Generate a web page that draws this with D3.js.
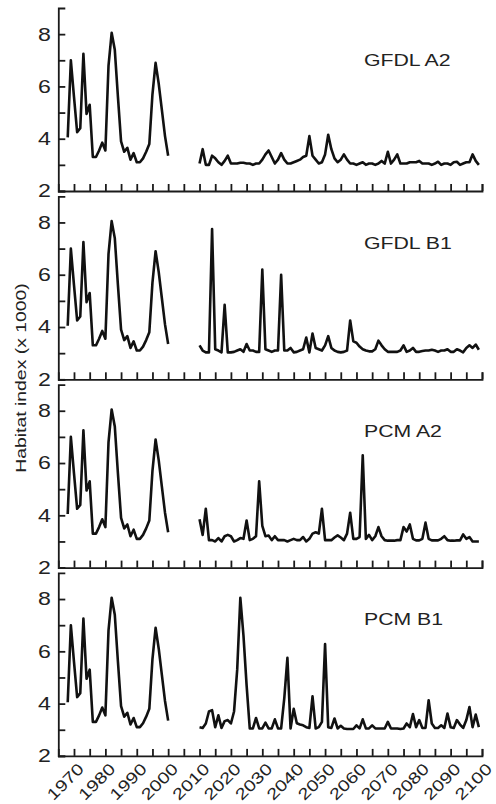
<!DOCTYPE html>
<meta charset="utf-8">
<head>
  <title>Habitat index projections</title>
</head>

<style>
body {
  margin: 0;
  background: #fff;
  font-family: "Liberation Sans", Arial, Helvetica, sans-serif;
}
.axis path, .axis line {
  stroke: #1a1a1a;
  stroke-width: 1.8px;
  fill: none;
}
.axis text {
  fill: #222;
  font-size: 18.5px;
  font-family: "Liberation Sans", Arial, Helvetica, sans-serif;
}
.series {
  fill: none;
  stroke: #111;
  stroke-width: 2.6px;
  stroke-linejoin: round;
}
.xlabel {
  fill: #222;
  font-size: 16px;
}
.panelname {
  fill: #222;
  font-size: 17px;
}
.ytitle {
  fill: #222;
  font-size: 15.5px;
}
</style>

<body>
<div id="chart"></div>

<script src="https://cdnjs.cloudflare.com/ajax/libs/d3/7.8.5/d3.min.js"></script>
<script>
// observed record, one value per year from 1968 (same in every panel)
var histStart = 1968;
var historical = [4.05, 7.0, 5.6, 4.25, 4.4, 7.25, 4.95, 5.3, 3.3, 3.3,
  3.55, 3.85, 3.55, 6.8, 8.05, 7.4, 5.6, 3.9, 3.5, 3.65,
  3.2, 3.45, 3.1, 3.1, 3.25, 3.5, 3.8, 5.7, 6.9, 6.1,
  5.1, 4.1, 3.35];

// projections, one value per year from 2010 to 2099
var projStart = 2010;
var gfdlA2 = [3.05, 3.6, 3.0, 3.0, 3.35, 3.25, 3.1, 3.0, 3.15, 3.35,
  3.05, 3.05, 3.05, 3.08, 3.08, 3.05, 3.05, 3.0, 3.05, 3.05,
  3.2, 3.4, 3.55, 3.3, 3.05, 3.2, 3.45, 3.2, 3.05, 3.05,
  3.1, 3.15, 3.2, 3.3, 3.35, 4.1, 3.35, 3.2, 3.05, 3.1,
  3.4, 4.15, 3.6, 3.25, 3.1, 3.2, 3.4, 3.2, 3.05, 3.05,
  3.0, 3.05, 3.1, 3.0, 3.05, 3.05, 3.0, 3.05, 3.15, 3.05,
  3.5, 3.05, 3.2, 3.4, 3.05, 3.05, 3.05, 3.1, 3.1, 3.1,
  3.15, 3.05, 3.05, 3.05, 3.0, 3.05, 3.12, 3.0, 3.05, 3.05,
  3.0, 3.1, 3.12, 3.0, 3.05, 3.1, 3.1, 3.4, 3.15, 3.0];
var gfdlB1 = [3.3, 3.1, 3.03, 3.03, 7.75, 3.15, 3.1, 3.03, 4.85, 3.03,
  3.03, 3.05, 3.1, 3.15, 3.05, 3.35, 3.1, 3.1, 3.05, 3.05,
  6.2, 3.15, 3.1, 3.05, 3.1, 3.1, 6.0, 3.1, 3.1, 3.2,
  3.03, 3.05, 3.1, 3.15, 3.6, 3.03, 3.75, 3.2, 3.15, 3.1,
  3.3, 3.65, 3.2, 3.1, 3.05, 3.03, 3.05, 3.1, 4.25, 3.45,
  3.4, 3.25, 3.15, 3.1, 3.07, 3.07, 3.15, 3.48, 3.3, 3.15,
  3.05, 3.05, 3.05, 3.05, 3.1, 3.3, 3.05, 3.1, 3.2, 3.05,
  3.05, 3.08, 3.1, 3.1, 3.13, 3.1, 3.05, 3.1, 3.1, 3.15,
  3.05, 3.05, 3.15, 3.1, 3.03, 3.2, 3.3, 3.2, 3.33, 3.13];
var pcmA2 = [3.85, 3.25, 4.25, 3.05, 3.05, 3.0, 3.13, 3.0, 3.2, 3.25,
  3.2, 3.0, 3.05, 3.13, 3.1, 3.8, 3.05, 3.1, 3.2, 5.3,
  3.6, 3.2, 3.23, 3.05, 3.2, 3.05, 3.05, 3.05, 3.0, 3.05,
  3.1, 3.05, 3.05, 3.17, 3.0, 3.1, 3.3, 3.35, 3.3, 4.25,
  3.05, 3.05, 3.05, 3.15, 3.23, 3.15, 3.05, 3.3, 4.1, 3.1,
  3.1, 3.17, 6.3, 3.1, 3.25, 3.05, 3.2, 3.55, 3.2, 3.05,
  3.03, 3.03, 3.03, 3.05, 3.05, 3.55, 3.38, 3.65, 3.1, 3.04,
  3.04, 3.1, 3.72, 3.1, 3.04, 3.04, 3.04, 3.1, 3.2, 3.05,
  3.03, 3.03, 3.04, 3.04, 3.27, 3.1, 3.17, 3.0, 3.0, 3.0];
var pcmB1 = [3.1, 3.07, 3.24, 3.7, 3.75, 3.1, 3.55, 3.07, 3.33, 3.37,
  3.24, 3.7, 5.3, 8.05, 6.6, 4.7, 3.05, 3.05, 3.45, 3.05,
  3.05, 3.27, 3.05, 3.05, 3.4, 3.05, 3.05, 4.2, 5.75, 3.05,
  3.8, 3.25, 3.2, 3.17, 3.1, 3.07, 4.28, 3.05, 3.1, 3.3,
  6.28, 3.1, 3.07, 3.43, 3.05, 3.15, 3.05, 3.03, 3.03, 3.03,
  3.17, 3.05, 3.4, 3.05, 3.05, 3.17, 3.05, 3.05, 3.05, 3.05,
  3.3, 3.05, 3.05, 3.05, 3.03, 3.05, 3.24, 3.1, 3.6, 3.1,
  3.37, 3.07, 3.07, 4.13, 3.24, 3.07, 3.07, 3.17, 3.07, 3.62,
  3.1, 3.07, 3.37, 3.2, 3.07, 3.37, 3.87, 3.1, 3.58, 3.1];

var panelNames = ["GFDL A2", "GFDL B1", "PCM A2", "PCM B1"];
var panelSeries = [gfdlA2, gfdlB1, pcmA2, pcmB1];

var yTicks = [2, 3, 4, 5, 6, 7, 8];
var yLabels = [2, 4, 6, 8];
var xTicks = [1970, 1975, 1980, 1985, 1990, 1995, 2000, 2005, 2010, 2015, 2020,
  2025, 2030, 2035, 2040, 2045, 2050, 2055, 2060, 2065, 2070, 2075, 2080,
  2085, 2090, 2095, 2100];
var xLabels = [1970, 1980, 1990, 2000, 2010, 2020, 2030, 2040, 2050, 2060,
  2070, 2080, 2090, 2100];

// layout
var width = 496, height = 804;
var left = 58.3, right = 482;
var top0 = 8, panelH = 183, panelStep = 188.3;
var stretch = 1.25; // the original text is drawn a bit wide

var svg = d3.select("#chart").append("svg")
  .attr("width", width)
  .attr("height", height);

var x = d3.scaleLinear().domain([1965, 2100]).range([left, right]);
var y = d3.scaleLinear().domain([2, 9]).range([panelH, 0]);

var line = d3.line()
  .x(function(d) { return x(d.year); })
  .y(function(d) { return y(d.value); });

function toPoints(values, start) {
  return values.map(function(v, i) { return {year: start + i, value: v}; });
}

panelSeries.forEach(function(series, i) {
  var g = svg.append("g")
    .attr("transform", "translate(0," + (top0 + i * panelStep) + ")");

  // y axis, ticks point inward
  var yAxis = d3.axisLeft(y)
    .tickValues(yTicks)
    .tickSizeInner(-7)
    .tickSizeOuter(-7)
    .tickFormat(function(d) { return yLabels.indexOf(d) >= 0 ? d : ""; });
  var ya = g.append("g")
    .attr("class", "axis")
    .attr("transform", "translate(" + left + ",0)")
    .call(yAxis);
  ya.selectAll("text")
    .attr("x", 0)
    .attr("transform", "translate(-7.5,0) scale(" + stretch + ",1)");

  // x axis, ticks point up, labels only on the last panel
  var xAxis = d3.axisBottom(x)
    .tickValues(xTicks)
    .tickSizeInner(-7)
    .tickSizeOuter(-7)
    .tickFormat("");
  g.append("g")
    .attr("class", "axis")
    .attr("transform", "translate(0," + panelH + ")")
    .call(xAxis);

  g.append("path")
    .datum(toPoints(historical, histStart))
    .attr("class", "series")
    .attr("d", line);

  g.append("path")
    .datum(toPoints(series, projStart))
    .attr("class", "series")
    .attr("d", line);

  g.append("text")
    .attr("class", "panelname")
    .attr("transform", "translate(" + x(2062.4) + "," + y(i === 0 ? 6.8 : 7) + ") scale(" + stretch + ",1)")
    .text(panelNames[i]);

  if (i === panelSeries.length - 1) {
    g.selectAll(".xlabel")
      .data(xLabels)
      .enter()
      .append("text")
      .attr("class", "xlabel")
      .attr("text-anchor", "end")
      .attr("transform", function(d) {
        return "translate(" + (x(d) + 11) + "," + (panelH + 14) + ") rotate(-45) scale(" + stretch + ",1)";
      })
      .text(function(d) { return d; });
  }
});

svg.append("text")
  .attr("class", "ytitle")
  .attr("text-anchor", "middle")
  .attr("transform", "translate(25.5,378) rotate(-90) scale(" + stretch + ",1)")
  .text("Habitat index (x 1000)");
</script>
</body>
</html>
